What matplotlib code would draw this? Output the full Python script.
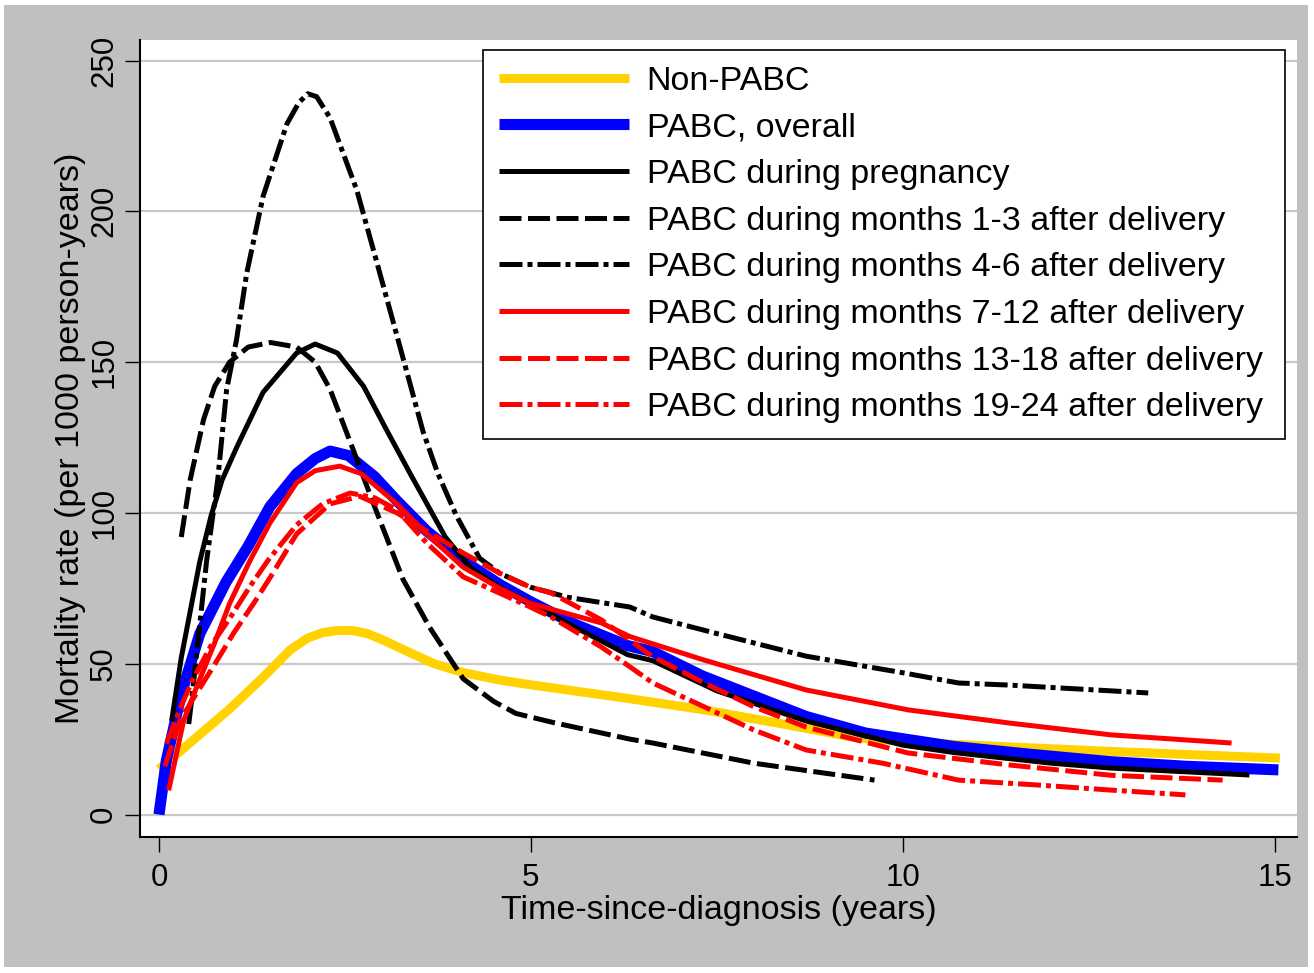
import matplotlib
matplotlib.use("Agg")
import matplotlib.pyplot as plt
from matplotlib.patches import Rectangle

plt.rcParams['font.family'] = ['Liberation Sans', 'DejaVu Sans']

# ---------------- data ----------------
non_x = [0, 0.5, 0.95, 1.4, 1.76, 2.0, 2.2, 2.4, 2.6, 2.8, 3.0, 3.3, 3.7, 4.1, 4.6, 5.0, 6.3, 7.33, 8.5, 9.38, 10.5, 11.44, 13.0, 15.07]
non_y = [15, 25.5, 35, 45.5, 54.5, 58.5, 60.3, 61, 61, 60, 58, 54.5, 50, 47, 44.5, 43, 38.5, 34.7, 29.5, 25.4, 23.5, 22.4, 20.7, 18.7]

all_x = [0, 0.1, 0.3, 0.55, 0.9, 1.2, 1.49, 1.85, 2.1, 2.3, 2.55, 2.9, 3.2, 3.6, 4.1, 4.6, 5.0, 5.6, 6.3, 6.64, 7.3, 8.7, 9.5, 10.7, 11.7, 12.8, 13.8, 15.05]
all_y = [0, 18, 40, 60, 77, 89, 102, 113, 118, 120.5, 119, 112, 104, 94, 84, 76, 70.5, 63, 56, 54, 46, 32.5, 27, 22.5, 20, 17.5, 16, 14.8]

preg_x = [0.17, 0.3, 0.55, 0.7, 0.85, 1.05, 1.4, 1.85, 2.1, 2.4, 2.75, 3.06, 3.4, 3.85, 4.18, 4.6, 5.0, 5.6, 6.3, 6.64, 7.5, 8.7, 10.0, 10.7, 12.0, 12.8, 14.66]
preg_y = [31, 52, 84, 99, 111, 122, 140, 153, 156, 153, 142, 127.5, 112, 92, 82, 75, 70, 62, 53, 51, 41, 31, 23, 20.5, 17, 15.4, 13.1]

m13_x = [0.3, 0.42, 0.6, 0.75, 0.95, 1.2, 1.5, 1.85, 2.1, 2.3, 2.61, 2.9, 3.28, 3.64, 4.09, 4.5, 4.8, 5.3, 6.33, 6.64, 8.0, 9.62]
m13_y = [92, 111, 131, 142, 150, 155, 156.5, 155, 150, 141, 121, 102, 78, 62, 45, 37.5, 33.5, 30.5, 25, 23.7, 17, 11.4]

m46_x = [0.4, 0.44, 0.64, 0.79, 0.91, 1.04, 1.18, 1.4, 1.72, 1.88, 2.0, 2.12, 2.3, 2.66, 2.93, 3.2, 3.55, 3.75, 4.0, 4.31, 4.58, 4.99, 5.5, 6.33, 6.64, 7.5, 8.7, 10.0, 10.75, 11.44, 13.3]
m46_y = [30, 38, 84, 111, 141, 157, 179.5, 205, 229, 236, 239, 238, 231, 207, 183, 158.7, 127, 113, 99, 85, 80, 75.4, 72, 68.8, 65.5, 60, 52.5, 47, 43.6, 42.9, 40.3]

m712_x = [0.13, 0.33, 0.51, 0.75, 0.95, 1.22, 1.49, 1.85, 2.1, 2.43, 2.72, 3.2, 3.6, 4.09, 4.58, 4.99, 5.95, 6.33, 7.33, 8.7, 10.07, 11.44, 12.8, 14.42]
m712_y = [8, 31, 42.5, 57, 70, 84, 96.6, 110, 114, 115.5, 113, 103, 93, 82, 75, 70, 63.5, 59, 51.2, 41.3, 34.7, 30.3, 26.4, 23.7]

m1318_x = [0.08, 0.28, 0.5, 0.73, 1.0, 1.3, 1.5, 1.85, 2.3, 2.7, 3.2, 3.6, 4.09, 4.58, 4.99, 5.27, 5.95, 6.64, 7.33, 8.0, 8.7, 10.07, 11.44, 12.8, 14.3]
m1318_y = [16, 31, 40, 49, 60, 71, 78.8, 93, 103, 105.5, 100, 94, 86.7, 80, 75.4, 73.5, 64.5, 52.3, 43.6, 35.7, 29, 20.4, 16.4, 13, 11.4]

m1924_x = [0.1, 0.3, 0.44, 0.7, 0.95, 1.22, 1.47, 1.85, 2.2, 2.57, 2.9, 3.2, 3.6, 4.09, 4.58, 4.99, 5.27, 5.95, 6.33, 6.64, 7.33, 8.0, 8.7, 9.73, 10.75, 11.8, 12.8, 13.8]
m1924_y = [23.5, 36, 44, 56, 65, 75.5, 84.4, 96, 103, 106.6, 105, 101, 90, 78.8, 73.4, 68.8, 65.5, 55.5, 49, 43.6, 35.7, 28, 21.4, 17, 11.4, 9.8, 8.1, 6.5]

labels = ["Non-PABC", "PABC, overall", "PABC during pregnancy",
          "PABC during months 1-3 after delivery",
          "PABC during months 4-6 after delivery",
          "PABC during months 7-12 after delivery",
          "PABC during months 13-18 after delivery",
          "PABC during months 19-24 after delivery"]
xticks = [0, 5, 10, 15]
yticks = [0, 50, 100, 150, 200, 250]

# ---------------- figure ----------------
W, H = 1314, 973
fig = plt.figure(figsize=(W / 100, H / 100), dpi=100)
fig.patch.set_facecolor('white')
bg = Rectangle((4 / W, 1 - 967 / H), (1308 - 4) / W, (967 - 5) / H,
               transform=fig.transFigure, facecolor='#c0c0c0',
               edgecolor='none', zorder=-10)
fig.add_artist(bg)
ax = fig.add_axes([140 / W, 1 - 837 / H, (1297 - 140) / W, (837 - 40) / H])
ax.set_zorder(1)
ax.set_facecolor('white')

lw_thin = 3.6
dash = (4.4, 1.3)
dashdot = (4.6, 1.0, 1.0, 1.0)

ax.plot(non_x, non_y, color='#ffd200', lw=6.5, solid_capstyle='butt', solid_joinstyle='round', label=labels[0])
ax.plot(all_x, all_y, color='#0000ff', lw=8, solid_capstyle='butt', solid_joinstyle='round', label=labels[1])
ax.plot(preg_x, preg_y, color='black', lw=lw_thin, solid_capstyle='butt', solid_joinstyle='round', label=labels[2])
ax.plot(m13_x, m13_y, color='black', lw=lw_thin, dashes=dash, label=labels[3])
ax.plot(m46_x, m46_y, color='black', lw=lw_thin, dashes=dashdot, label=labels[4])
ax.plot(m712_x, m712_y, color='#ff0000', lw=lw_thin, solid_capstyle='butt', solid_joinstyle='round', label=labels[5])
ax.plot(m1318_x, m1318_y, color='#ff0000', lw=lw_thin, dashes=dash, label=labels[6])
ax.plot(m1924_x, m1924_y, color='#ff0000', lw=lw_thin, dashes=dashdot, label=labels[7])

ax.set_xlim(-0.255, 15.3)
ax.set_ylim(-7.46, 256.8)
ax.set_xticks(xticks)
ax.set_xticklabels([str(t) for t in xticks], fontsize=22.5)
ax.set_yticks(yticks)
ax.set_yticklabels([str(t) for t in yticks], fontsize=22.5, rotation=90, va='center')
ax.yaxis.grid(True, color='#c8c8c8', lw=1.6)
ax.set_axisbelow(True)
ax.tick_params(axis='both', direction='out', length=11, width=1, color='black')
ax.tick_params(axis='x', pad=8)
ax.tick_params(axis='y', pad=4)

for s in ['top', 'right']:
    ax.spines[s].set_visible(False)
for s in ['left', 'bottom']:
    ax.spines[s].set_color('black')
    ax.spines[s].set_linewidth(1.5)

ax.set_xlabel("Time-since-diagnosis (years)", fontsize=24.5, labelpad=1)
ax.set_ylabel("Mortality rate (per 1000 person-years)", fontsize=24.5, labelpad=2.5)

x0 = (483 - 140) / 1157
wlg = (1285 - 483) / 1157
ytop = (837 - 50) / 797
leg = ax.legend(loc='upper left', bbox_to_anchor=(x0, ytop - 0.6, wlg, 0.6), mode='expand',
                borderaxespad=0, fontsize=24.5, handlelength=3.82, handletextpad=0.53,
                labelspacing=0.46, borderpad=0.46, fancybox=False, framealpha=1,
                edgecolor='black')
leg.get_frame().set_linewidth(1.2)

fig.savefig('out.png', dpi=100)
